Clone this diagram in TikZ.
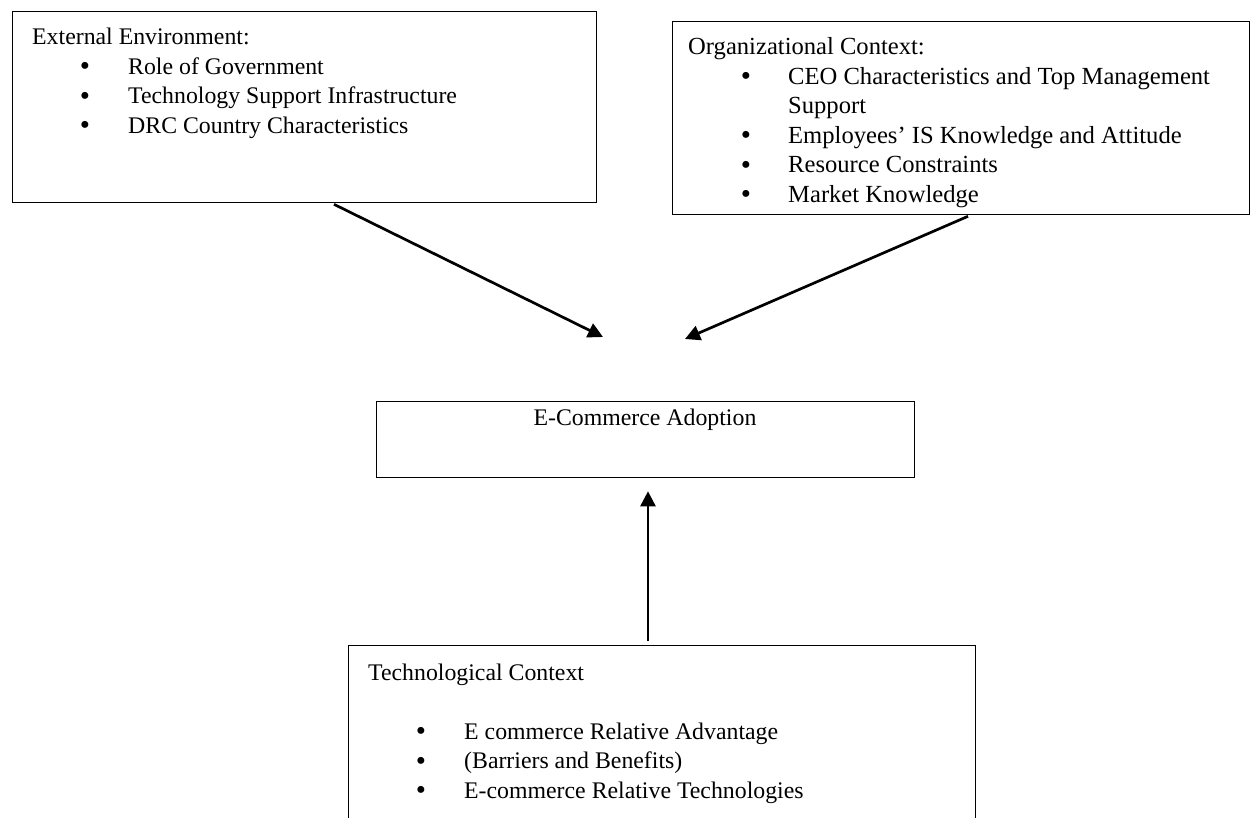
\documentclass[tikz,border=0pt]{standalone}
\usepackage{fontspec}
\setmainfont{Liberation Serif}
\usetikzlibrary{arrows.meta,calc}
\begin{document}
\begin{tikzpicture}[x=1pt,y=-1pt,
  box/.style={draw=black, line width=1.3pt, anchor=north west, inner sep=0pt},
  txt/.style={anchor=base west, inner sep=0pt, font=\fontsize{23.8}{28}\selectfont},
  txtb/.style={anchor=base west, inner sep=0pt, font=\fontsize{24.6}{29}\selectfont},
  bul/.style={anchor=base, inner sep=0pt, font=\fontsize{29}{29}\selectfont},
  ctxt/.style={anchor=base, inner sep=0pt, font=\fontsize{23.8}{28}\selectfont},
  arr/.style={line width=2.7pt, -{Triangle[length=15pt,width=15pt]}}]
\useasboundingbox (0,0) rectangle (1250,818);
% boxes
\node[box, minimum width=584pt, minimum height=191pt] (ext) at (12,11) {};
\node[box, minimum width=577pt, minimum height=193pt] (org) at (672,21) {};
\node[box, minimum width=538pt, minimum height=76pt] (eca) at (376,401) {};
\node[box, minimum width=627pt, minimum height=200pt] (tec) at (348,645) {};
% external environment
\node[txt] (ext-t) at (32,45) {External Environment:};
\node[bul] (ext-b1) at (85,76) {\textbullet};
\node[txt] (ext-i1) at (128,74.5) {Role of Government};
\node[bul] (ext-b2) at (85,105.5) {\textbullet};
\node[txt] (ext-i2) at (128,104) {Technology Support Infrastructure};
\node[bul] (ext-b3) at (85,135) {\textbullet};
\node[txt] (ext-i3) at (128,133.5) {DRC Country Characteristics};
% organizational context
\node[txtb] (org-t) at (688,55) {Organizational Context:};
\node[bul] (org-b1) at (746,86) {\textbullet};
\node[txtb] (org-i1) at (788,84.5) {CEO Characteristics and Top Management};
\node[txtb] (org-i1b) at (788,114) {Support};
\node[bul] (org-b2) at (746,145) {\textbullet};
\node[txtb] (org-i2) at (788,143.5) {Employees’ IS Knowledge and Attitude};
\node[bul] (org-b3) at (746,174.5) {\textbullet};
\node[txtb] (org-i3) at (788,173) {Resource Constraints};
\node[bul] (org-b4) at (746,204) {\textbullet};
\node[txtb] (org-i4) at (788,202.5) {Market Knowledge};
% e-commerce adoption
\node[ctxt] (eca-t) at (645,425) {E-Commerce Adoption};
% technological context
\node[txt] (tec-t) at (368,680) {Technological Context};
\node[bul] (tec-b1) at (421,740.5) {\textbullet};
\node[txt] (tec-i1) at (464,739) {E commerce Relative Advantage};
\node[bul] (tec-b2) at (421,770) {\textbullet};
\node[txt] (tec-i2) at (464,768.5) {(Barriers and Benefits)};
\node[bul] (tec-b3) at (421,799.5) {\textbullet};
\node[txt] (tec-i3) at (464,798) {E-commerce Relative Technologies};
% connectors
\coordinate (tip1) at (603,337);
\coordinate (tip2) at (685,339);
\draw[arr] ($(ext.south west)+(322,1)$) -- (tip1);
\draw[arr] ($(org.south west)+(296,1)$) -- (tip2);
\draw[arr] ($(tec.north west)+(300,-4)$) -- ($(eca.south west)+(272,13)$);
\end{tikzpicture}
\end{document}
